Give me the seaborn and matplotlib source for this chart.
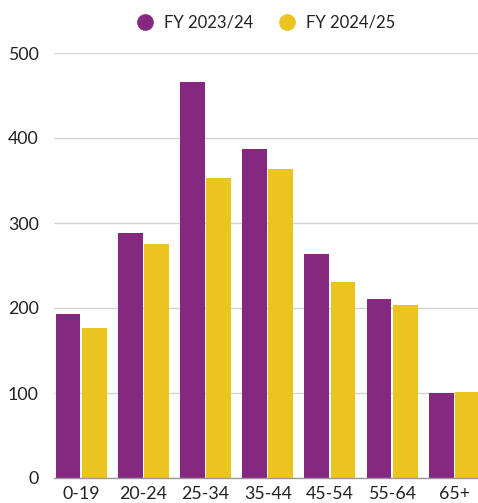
import matplotlib
matplotlib.use("Agg")
import matplotlib.pyplot as plt
from matplotlib.lines import Line2D
import seaborn as sns
import pandas as pd

categories = ["0-19", "20-24", "25-34", "35-44", "45-54", "55-64", "65+"]
fy2324 = [193, 288, 466, 387, 264, 211, 100]
fy2425 = [176, 275, 353, 363, 231, 204, 101]
series_names = ["FY 2023/24", "FY 2024/25"]
y_ticks = [0, 100, 200, 300, 400, 500]

colors = ["#84297F", "#EBC51F"]

df = pd.DataFrame({
    "age": categories * 2,
    "value": fy2324 + fy2425,
    "series": [series_names[0]] * len(categories) + [series_names[1]] * len(categories),
})

sns.set_theme(style="white")
plt.rcParams["font.family"] = ["Lato", "DejaVu Sans"]

W, H = 478, 503
fig = plt.figure(figsize=(W / 100, H / 100), dpi=100)
left_px, right_px, top_px, bottom_px = 54, 478, 53, 478
ax = fig.add_axes([left_px / W, (H - bottom_px) / H, (right_px - left_px) / W, (bottom_px - top_px) / H])

sns.barplot(data=df, x="age", y="value", hue="series", palette=colors,
            width=0.84, gap=0.05, ax=ax, legend=False, saturation=1,
            edgecolor="none")

ax.set_xlim(-0.436, 6.381)
ax.set_ylim(0, 500)
ax.set_yticks(y_ticks)
ax.set_yticklabels([str(t) for t in y_ticks])
ax.set_xlabel("")
ax.set_ylabel("")
ax.yaxis.grid(True, color="#d3d3d3", linewidth=1)
ax.set_axisbelow(True)
for s in ["top", "right", "left"]:
    ax.spines[s].set_visible(False)
ax.spines["bottom"].set_color("#999999")
ax.spines["bottom"].set_linewidth(1)
ax.tick_params(axis="both", length=0, labelsize=12.8, colors="#222222")
ax.tick_params(axis="y", pad=11)
ax.tick_params(axis="x", pad=6)

handles = [Line2D([0], [0], marker="o", linestyle="", markersize=11,
                  markerfacecolor=col, markeredgecolor=col) for col in colors]
fig.legend(handles, series_names, loc="center", ncol=2,
           bbox_to_anchor=(262 / W, 1 - 23 / H), frameon=False,
           fontsize=12, handletextpad=0.15, columnspacing=1.0,
           labelcolor="#222222")

fig.savefig("out.png", dpi=100)
